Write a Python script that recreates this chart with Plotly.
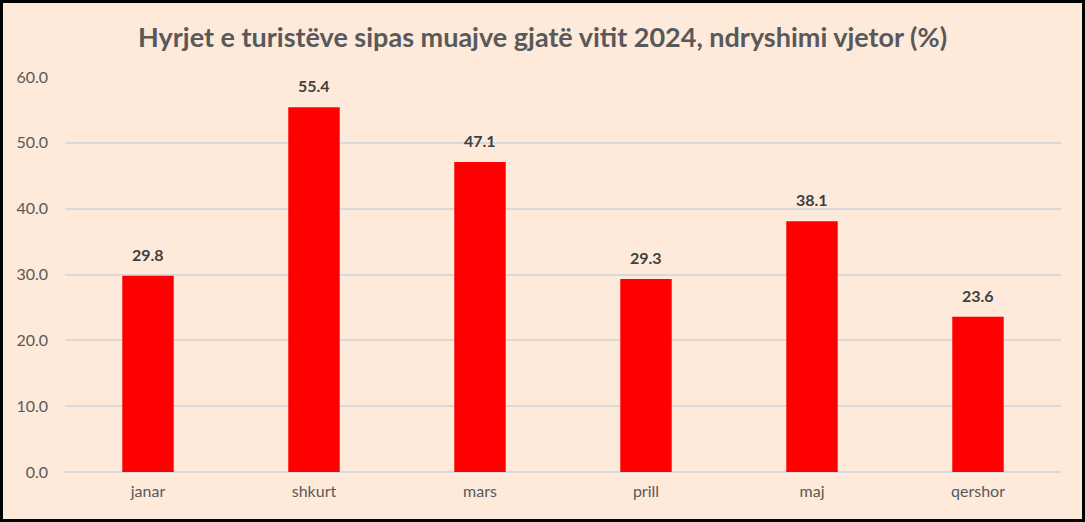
import plotly.graph_objects as go

months = ["janar", "shkurt", "mars", "prill", "maj", "qershor"]
values = [29.8, 55.4, 47.1, 29.3, 38.1, 23.6]
title = "Hyrjet e turistëve sipas muajve gjatë vitit 2024, ndryshimi vjetor (%)"

W, H = 1085, 522
ml, mr, mt, mb = 65, 24, 77, 50
pw, ph = W - ml - mr, H - mt - mb

fig = go.Figure(go.Bar(
    x=months, y=values,
    marker=dict(color="#FF0000", line=dict(width=0)),
    width=0.31,
))

for m, v in zip(months, values):
    fig.add_annotation(x=m, y=v, text=f"{v:.1f}", showarrow=False,
                       yanchor="bottom", yshift=10,
                       font=dict(family="Lato", size=16, color="#404040", weight="bold"))

bg = "#FDEADB"
fig.update_layout(
    width=W, height=H,
    margin=dict(l=ml, r=mr, t=mt, b=mb),
    paper_bgcolor=bg, plot_bgcolor=bg,
    title=dict(text=title, x=0.5, xanchor="center", y=1 - 38 / H, yanchor="middle",
               font=dict(family="Lato", size=27, color="#595959", weight="bold")),
    font=dict(family="Lato", color="#595959"),
    showlegend=False,
    xaxis=dict(tickfont=dict(size=16, color="#595959"), showgrid=False, showline=False,
               ticks="", ticklabelstandoff=8),
    yaxis=dict(range=[0, 60], dtick=10, tickformat=".1f", showgrid=True, gridcolor="#D9D9D9",
               gridwidth=1.5, zeroline=True, zerolinecolor="#D9D9D9", zerolinewidth=1.5,
               tickfont=dict(size=16, color="#595959"), ticklabelstandoff=16, showline=False),
    shapes=[dict(type="rect", xref="paper", yref="paper",
                 x0=-(ml - 1.5) / pw, x1=1 + (mr - 1.5) / pw,
                 y0=-(mb - 1.5) / ph, y1=1 + (mt - 1.5) / ph,
                 line=dict(color="black", width=3), layer="above")],
)

fig.write_html("out.html", config={"displayModeBar": False},
               post_script="document.body.style.margin='0';")
